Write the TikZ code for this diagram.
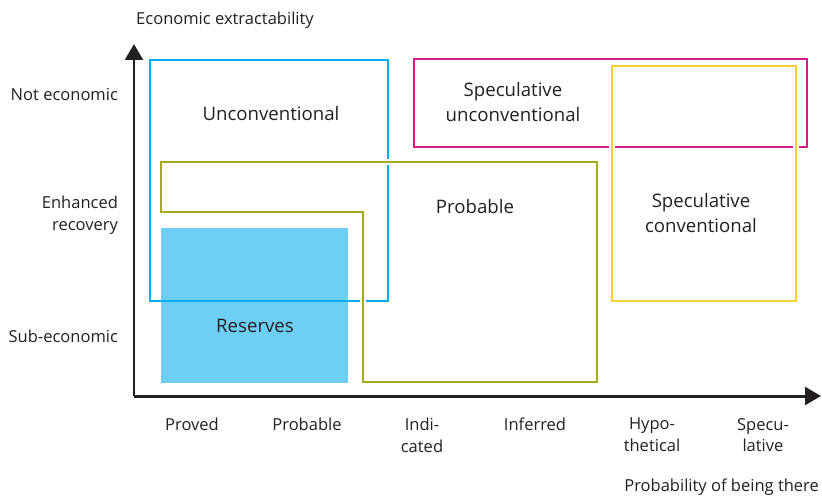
\documentclass[tikz,border=0pt]{standalone}
\usepackage{fontspec}
\setmainfont{Open Sans}
\usepackage[]{tikz}
\usepackage[dvipsnames]{xcolor}
\usetikzlibrary{arrows.meta}
\usetikzlibrary{positioning}
\definecolor{axisgray}{HTML}{231F20}
\definecolor{boxcyan}{HTML}{00AEEF}
\definecolor{fillcyan}{HTML}{6DCFF6}
\definecolor{boxolive}{HTML}{A9A91C}
\definecolor{boxmagenta}{HTML}{D6198B}
\definecolor{boxyellow}{HTML}{FDCD34}
\tikzset{axis/.style = {draw=axisgray,line width=1.7pt,-{Triangle[length=9pt,width=10pt]}}}
\tikzset{frame/.style = {line width=1.5pt}}
\tikzset{knockout/.style = {preaction={draw=white,line width=3.5pt}}}
\tikzset{lbl/.style = {font=\fontsize{10.6}{14.6}\selectfont,text=axisgray,align=center}}
\tikzset{ax/.style = {font=\fontsize{9.4}{12.4}\selectfont,text=axisgray,align=center,inner sep=1pt}}

\begin{document}
\begin{tikzpicture}[x=0.02cm,y=-0.02cm]
        \useasboundingbox (0,0) rectangle (822,498);
        \coordinate (origin) at (134,396);
        \coordinate (ytip) at (134,44);
        \coordinate (xtip) at (821,396);
        % boxes
        \fill[fillcyan] (161,228) rectangle (348,383);
        \draw[frame,draw=boxcyan] (150,60) rectangle (388,301);
        \draw[frame,knockout,draw=boxolive] (161,162)--(597,162)--(597,382)--(363,382)--(363,212)--(161,212)--cycle;
        \draw[frame,draw=boxmagenta] (414,59) rectangle (807,147);
        \draw[frame,knockout,draw=boxyellow] (612,66) rectangle (796,301);
        \node[lbl] (unconv) at (271,114) {Unconventional};
        \node[lbl] (specunconv) at (513,102) {Speculative\\unconventional};
        \node[lbl] (probable) at (475,207) {Probable};
        \node[lbl] (specconv) at (701,213) {Speculative\\conventional};
        \node[lbl] (reserves) at (255,326) {Reserves};
        % axes
        \draw[axis] (origin)--(ytip);
        \draw[axis] (origin)--(xtip);
        \node[ax] (yname) at (225,20) {Economic extractability};
        \node[ax] (xname) [anchor=east] at (821,487) {Probability of being there};
        \node[ax] (noteco) [anchor=east] at (120,95) {Not economic};
        \node[ax] (enhanced) [anchor=east,align=right] at (120,215) {Enhanced\\recovery};
        \node[ax] (subeco) [anchor=east] at (120,336) {Sub-economic};
        \node[ax] (proved) at (192,424) {Proved};
        \node[ax] (probx) at (307,424) {Probable};
        \node[ax] (indicated) at (422,435) {Indi-\\cated};
        \node[ax] (inferred) at (535,424) {Inferred};
        \node[ax] (hypo) at (652,435) {Hypo-\\thetical};
        \node[ax] (specu) at (763,435) {Specu-\\lative};
    \end{tikzpicture}
\end{document}
